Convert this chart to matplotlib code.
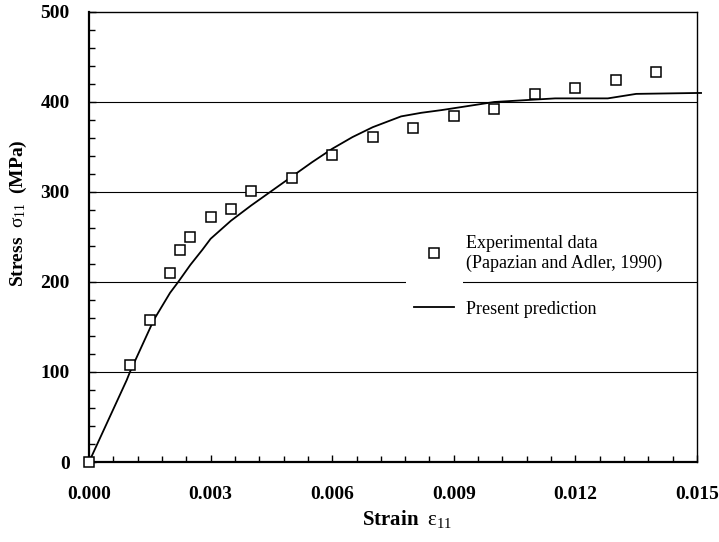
import matplotlib.pyplot as plt
from matplotlib.patches import Rectangle
from matplotlib.ticker import MultipleLocator, FormatStrFormatter

plt.rcParams["font.family"] = ["Liberation Serif", "DejaVu Serif"]
plt.rcParams["mathtext.fontset"] = "custom"
plt.rcParams["mathtext.rm"] = "Liberation Serif"
plt.rcParams["mathtext.it"] = "Liberation Serif:italic"
plt.rcParams["mathtext.bf"] = "Liberation Serif:bold"

# experimental points (Papazian and Adler, 1990)
exp_strain = [0.0, 0.001, 0.0015, 0.002, 0.00225, 0.0025, 0.003, 0.0035, 0.004,
              0.005, 0.006, 0.007, 0.008, 0.009, 0.010, 0.011, 0.012, 0.013, 0.014]
exp_stress = [0, 108, 158, 210, 235, 250, 272, 281, 301,
              316, 341, 361, 371, 384, 392, 409, 416, 424, 433]

# model prediction
pred_strain = [0.0, 0.00093, 0.00101, 0.0016, 0.002, 0.0022, 0.0025, 0.0028, 0.003,
               0.0035, 0.004, 0.0045, 0.005, 0.0055, 0.006, 0.0065, 0.007, 0.0077,
               0.0082, 0.0087, 0.0100, 0.0115, 0.0128, 0.0135, 0.0150, 0.0151]
pred_stress = [0, 91, 100, 158, 188, 200, 219, 236, 248,
               268, 285, 301, 317, 333, 348, 361, 372, 384,
               388, 391, 400, 404, 404, 409, 410, 410]

fig = plt.figure(figsize=(7.19, 5.42), dpi=100)
ax = fig.add_axes([0.1238, 0.1476, 0.8456, 0.8303])

for y in [100, 200, 300, 400]:
    ax.axhline(y, color="black", lw=0.8, zorder=1)
# gap in the 200 line behind the legend symbols
ax.add_patch(Rectangle((0.521, 0.385), 0.094, 0.03, transform=ax.transAxes,
                       facecolor="white", edgecolor="none", zorder=1.5))

ax.plot(exp_strain, exp_stress, "s", mfc="white", mec="black", ms=6.5, mew=1.1,
        linestyle="none", zorder=3, clip_on=False,
        label="Experimental data\n(Papazian and Adler, 1990)")
ax.plot(pred_strain, pred_stress, color="black", lw=1.3, zorder=2, clip_on=False,
        label="Present prediction")

ax.set_xlim(0, 0.015)
ax.set_ylim(0, 500)
ax.xaxis.set_major_locator(MultipleLocator(0.003))
ax.xaxis.set_minor_locator(MultipleLocator(0.0006))
ax.yaxis.set_major_locator(MultipleLocator(100))
ax.yaxis.set_minor_locator(MultipleLocator(20))
ax.xaxis.set_major_formatter(FormatStrFormatter("%.3f"))

ax.tick_params(which="both", direction="in", top=False, right=False)
ax.tick_params(axis="x", which="major", length=5, width=1, pad=17, labelsize=14)
ax.tick_params(axis="x", which="minor", length=4, width=1)
ax.tick_params(axis="y", which="major", length=5, width=1, pad=14, labelsize=14)
ax.tick_params(axis="y", which="minor", length=4, width=1)
for lab in ax.get_xticklabels() + ax.get_yticklabels():
    lab.set_fontweight("bold")

ax.spines["left"].set_linewidth(1.6)
ax.spines["bottom"].set_linewidth(1.6)
ax.spines["top"].set_linewidth(1.0)
ax.spines["right"].set_linewidth(1.0)

ax.set_xlabel(r"$\mathbf{Strain}\ \ \mathrm{\epsilon}_{\mathrm{11}}$", fontsize=15)
ax.xaxis.set_label_coords(0.523, -0.103)
ax.set_ylabel(r"$\mathbf{Stress}\ \ \mathrm{\sigma}_{\mathrm{11}}\ \ \mathbf{(MPa)}$",
              fontsize=14)
ax.yaxis.set_label_coords(-0.098, 0.553)

ax.legend(loc="upper left", bbox_to_anchor=(0.5345, 0.505), frameon=False,
          fontsize=13, handlelength=2.2, handletextpad=0.7, borderpad=0,
          borderaxespad=0, labelspacing=1.6)

fig.savefig("out.png", dpi=100)
